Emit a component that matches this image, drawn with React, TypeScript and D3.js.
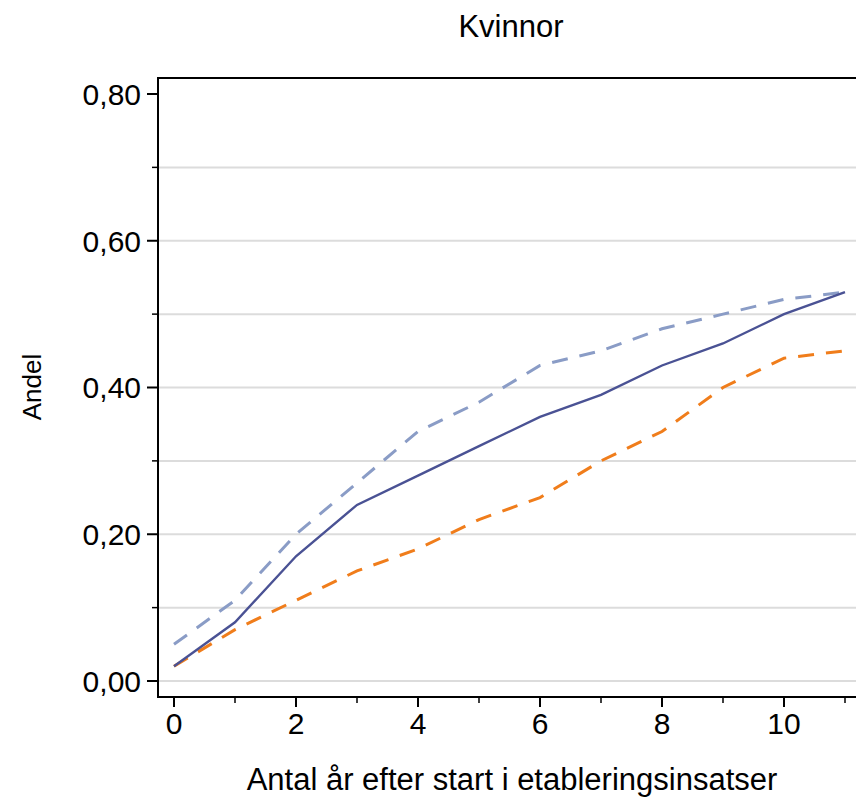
import React from "react";
import * as d3 from "d3";

const years = [0, 1, 2, 3, 4, 5, 6, 7, 8, 9, 10, 11];
const seriesSolid = [0.02, 0.08, 0.17, 0.24, 0.28, 0.32, 0.36, 0.39, 0.43, 0.46, 0.5, 0.53];
const seriesLightDash = [0.05, 0.11, 0.2, 0.27, 0.34, 0.38, 0.43, 0.45, 0.48, 0.5, 0.52, 0.53];
const seriesOrangeDash = [0.02, 0.07, 0.11, 0.15, 0.18, 0.22, 0.25, 0.3, 0.34, 0.4, 0.44, 0.45];
const yMajorTicks = [0, 0.2, 0.4, 0.6, 0.8];
const yMinorTicks = [0.1, 0.3, 0.5, 0.7];
const yGridTicks = [0, 0.1, 0.2, 0.3, 0.4, 0.5, 0.6, 0.7];
const xMajorTicks = [0, 2, 4, 6, 8, 10];
const xMinorTicks = [1, 3, 5, 7, 9, 11];
const title = "Kvinnor";
const yLabel = "Andel";
const xLabel = "Antal år efter start i etableringsinsatser";

const W = 856;
const H = 797;
const font = "'Liberation Sans', Arial, sans-serif";

export default function App() {
  const x = d3.scaleLinear().domain([0, 11]).range([174, 845]);
  const y = d3.scaleLinear().domain([0, 0.8]).range([681, 94]);
  const line = d3
    .line<number>()
    .x((_, i) => x(years[i]))
    .y((d) => y(d));
  const fmt = (v: number) => v.toFixed(2).replace(".", ",");
  const left = 158;
  const top = 78;
  const bottom = 697;

  return (
    <svg width={W} height={H} style={{ position: "absolute", left: 0, top: 0 }}>
      <rect width={W} height={H} fill="#fff" />
      <text x={511} y={37} textAnchor="middle" fontFamily={font} fontSize={31} fill="#000">
        {title}
      </text>
      {yGridTicks.map((t) => (
        <line key={"g" + t} x1={left} x2={W} y1={y(t)} y2={y(t)} stroke="#dcdcdc" strokeWidth={2} />
      ))}
      <line x1={left} x2={W} y1={top} y2={top} stroke="#000" strokeWidth={2} />
      <line x1={left} x2={left} y1={top - 1} y2={bottom + 1} stroke="#000" strokeWidth={2} />
      <line x1={left - 1} x2={W} y1={bottom} y2={bottom} stroke="#000" strokeWidth={2} />
      {yMajorTicks.map((t) => (
        <g key={"ym" + t}>
          <line x1={left - 11} x2={left} y1={y(t)} y2={y(t)} stroke="#000" strokeWidth={2} />
          <text x={left - 17} y={y(t)} dy="0.36em" textAnchor="end" fontFamily={font} fontSize={30} fill="#000">
            {fmt(t)}
          </text>
        </g>
      ))}
      {yMinorTicks.map((t) => (
        <line key={"yn" + t} x1={left - 6} x2={left} y1={y(t)} y2={y(t)} stroke="#000" strokeWidth={1.5} />
      ))}
      {xMajorTicks.map((t) => (
        <g key={"xm" + t}>
          <line x1={x(t)} x2={x(t)} y1={bottom} y2={bottom + 10} stroke="#000" strokeWidth={2} />
          <text x={x(t)} y={734} textAnchor="middle" fontFamily={font} fontSize={30} fill="#000">
            {t}
          </text>
        </g>
      ))}
      {xMinorTicks.map((t) => (
        <line key={"xn" + t} x1={x(t)} x2={x(t)} y1={bottom} y2={bottom + 6} stroke="#000" strokeWidth={1.5} />
      ))}
      <path d={line(seriesLightDash) || ""} fill="none" stroke="#8a9cc6" strokeWidth={3} strokeDasharray="16 12" />
      <path d={line(seriesOrangeDash) || ""} fill="none" stroke="#f07d1b" strokeWidth={3} strokeDasharray="16 12" />
      <path d={line(seriesSolid) || ""} fill="none" stroke="#4a5294" strokeWidth={2.4} />
      <text
        transform={`translate(41,387) rotate(-90)`}
        textAnchor="middle"
        fontFamily={font}
        fontSize={26}
        fill="#000"
      >
        {yLabel}
      </text>
      <text x={512} y={790} textAnchor="middle" fontFamily={font} fontSize={31} fill="#000">
        {xLabel}
      </text>
    </svg>
  );
}
